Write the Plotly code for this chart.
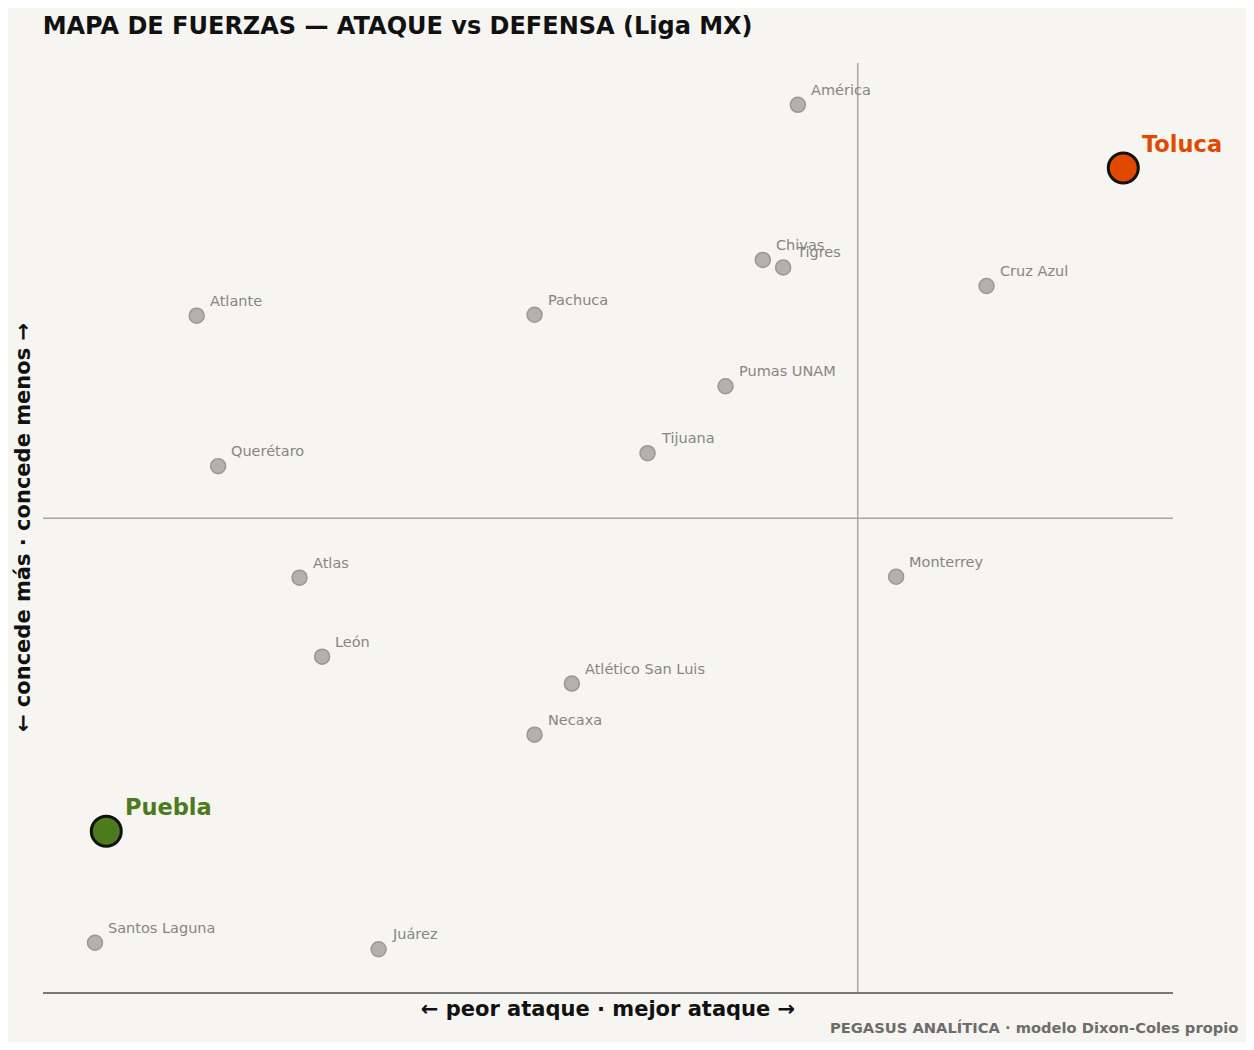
import plotly.graph_objects as go

teams = ["América","Chivas","Tigres","Cruz Azul","Atlante","Pachuca","Pumas UNAM","Querétaro","Tijuana",
         "Atlas","Monterrey","León","Atlético San Luis","Necaxa","Santos Laguna","Juárez"]
attack = [66.8,63.7,65.5,83.5,13.6,43.5,60.4,15.5,53.5,22.7,75.5,24.7,46.8,43.5,4.6,29.7]
defense = [95.5,78.8,78.0,76.0,72.8,72.9,65.2,56.6,58.0,44.6,44.7,36.1,33.2,27.7,5.3,4.6]
hl_teams = ["Toluca","Puebla"]
hl_attack = [95.6,5.6]
hl_defense = [88.7,17.3]
hl_colors = ["#e04a00","#4e7a1e"]
x_mid, y_mid = 72.1, 51.0

fig = go.Figure()
fig.add_trace(go.Scatter(x=attack, y=defense, mode="markers",
    marker=dict(size=15, color="#b3b1ad", line=dict(color="#9a9894", width=1.5)), hoverinfo="text", text=teams))
fig.add_trace(go.Scatter(x=hl_attack, y=hl_defense, mode="markers",
    marker=dict(size=30, color=hl_colors, line=dict(color="#111", width=3)), text=hl_teams))
for t,x,y in zip(teams,attack,defense):
    fig.add_annotation(x=x,y=y,text=t,showarrow=False,xanchor="left",yanchor="bottom",
        xshift=11,yshift=5,font=dict(size=14.5,color="#888580",family="DejaVu Sans"))
for t,x,y,c in zip(hl_teams,hl_attack,hl_defense,hl_colors):
    fig.add_annotation(x=x,y=y,text="<b>"+t+"</b>",showarrow=False,xanchor="left",yanchor="bottom",
        xshift=17,yshift=9,font=dict(size=22.5,color=c,family="DejaVu Sans"))
fig.add_vline(x=x_mid,line=dict(color="#a8a6a2",width=1.5))
fig.add_hline(y=y_mid,line=dict(color="#a8a6a2",width=1.5))
fig.add_annotation(xref="paper",yref="paper",x=1.059,y=-0.038,text="<b>PEGASUS ANALÍTICA · modelo Dixon-Coles propio</b>",
    showarrow=False,xanchor="right",yanchor="middle",font=dict(size=14.7,color="#6e6c69"))
fig.update_layout(width=1238,height=1034,paper_bgcolor="#f6f5f2",plot_bgcolor="#f6f5f2",
    margin=dict(l=35,r=73,t=55,b=50),showlegend=False,font=dict(family="DejaVu Sans"),
    title=dict(text="<b>MAPA DE FUERZAS — ATAQUE vs DEFENSA (Liga MX)</b>",x=0.028,xanchor="left",y=0.983,yanchor="middle",
        font=dict(size=24,color="#111")),
    xaxis=dict(range=[0,100],showgrid=False,zeroline=False,showticklabels=False,showline=True,
        linecolor="#777",linewidth=1.5,title=dict(text="<b>← peor ataque · mejor ataque →</b>",font=dict(size=21,color="#111"),standoff=9)),
    yaxis=dict(range=[0,100],showgrid=False,zeroline=False,showticklabels=False,
        title=dict(text="<b>← concede más · concede menos →</b>",font=dict(size=21,color="#111"),standoff=5)))
fig.write_html("out.html")
